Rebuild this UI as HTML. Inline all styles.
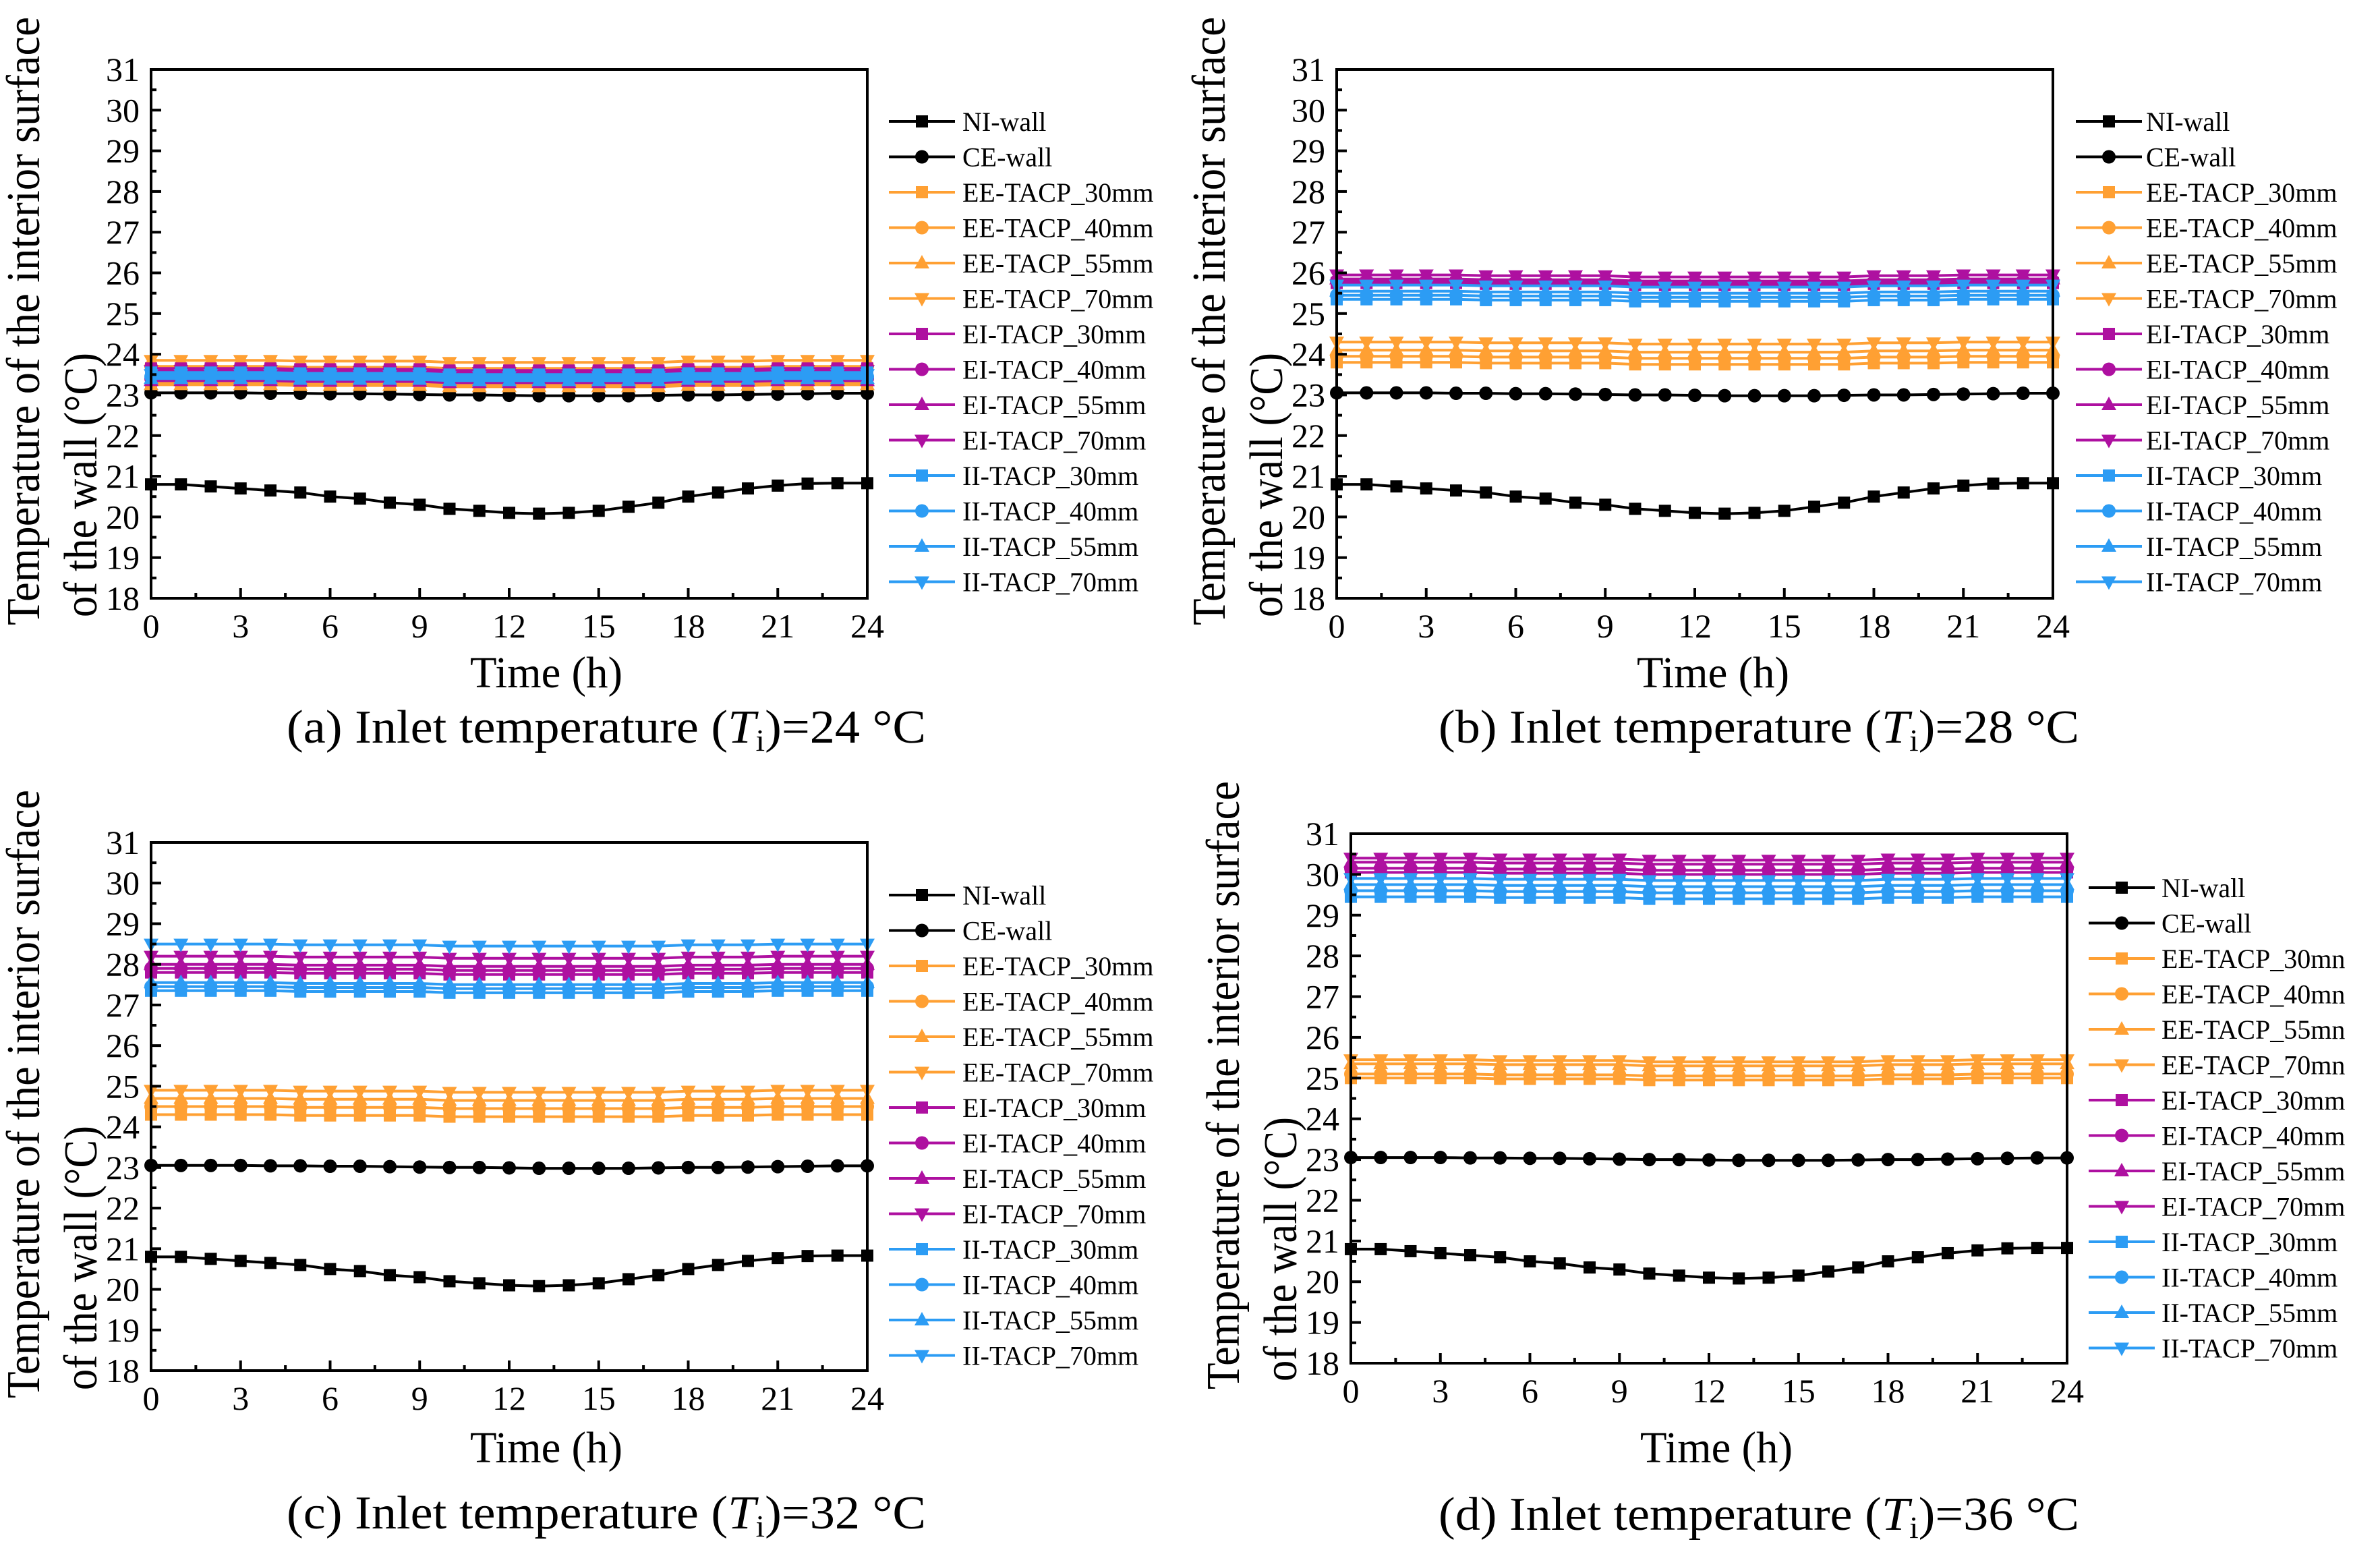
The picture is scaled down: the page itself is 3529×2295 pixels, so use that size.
<!DOCTYPE html>
<html><head><meta charset="utf-8"><style>
html,body{margin:0;padding:0;background:#fff;}
svg{display:block;font-family:"Liberation Serif","Times New Roman",serif;}
</style></head>
<body>
<svg id="fig" width="3529" height="2295" viewBox="0 0 3529 2295" xmlns="http://www.w3.org/2000/svg"></svg>
<script>
const hours = [0,1,2,3,4,5,6,7,8,9,10,11,12,13,14,15,16,17,18,19,20,21,22,23,24];
const xTicks = [0,3,6,9,12,15,18,21,24];
const yTicks = [18,19,20,21,22,23,24,25,26,27,28,29,30,31];
const seriesNames = ["NI-wall","CE-wall","EE-TACP_30mm","EE-TACP_40mm","EE-TACP_55mm","EE-TACP_70mm","EI-TACP_30mm","EI-TACP_40mm","EI-TACP_55mm","EI-TACP_70mm","II-TACP_30mm","II-TACP_40mm","II-TACP_55mm","II-TACP_70mm"];
const legendNamesD = ["NI-wall","CE-wall","EE-TACP_30mn","EE-TACP_40mn","EE-TACP_55mn","EE-TACP_70mn","EI-TACP_30mm","EI-TACP_40mm","EI-TACP_55mm","EI-TACP_70mm","II-TACP_30mm","II-TACP_40mm","II-TACP_55mm","II-TACP_70mm"];
const niWall = [20.8,20.8,20.75,20.7,20.65,20.6,20.5,20.45,20.35,20.3,20.2,20.15,20.1,20.08,20.1,20.15,20.25,20.35,20.5,20.6,20.7,20.77,20.82,20.83,20.83];
const ceWall = [23.05,23.05,23.05,23.05,23.04,23.04,23.03,23.03,23.02,23.01,23.0,23.0,22.99,22.98,22.98,22.98,22.98,22.99,23.0,23.0,23.01,23.02,23.03,23.04,23.04];

const aEE30=[23.3,23.3,23.3,23.3,23.3,23.28,23.28,23.28,23.28,23.28,23.25,23.25,23.25,23.25,23.25,23.25,23.25,23.25,23.28,23.28,23.28,23.3,23.3,23.3,23.3];
const aEE40=[23.7,23.7,23.7,23.7,23.7,23.68,23.68,23.68,23.68,23.68,23.65,23.65,23.65,23.65,23.65,23.65,23.65,23.65,23.68,23.68,23.68,23.7,23.7,23.7,23.7];
const aEE55=[23.25,23.25,23.25,23.25,23.25,23.23,23.23,23.23,23.23,23.23,23.2,23.2,23.2,23.2,23.2,23.2,23.2,23.2,23.23,23.23,23.23,23.25,23.25,23.25,23.25];
const aEE70=[23.85,23.85,23.85,23.85,23.85,23.83,23.83,23.83,23.83,23.83,23.8,23.8,23.8,23.8,23.8,23.8,23.8,23.8,23.83,23.83,23.83,23.85,23.85,23.85,23.85];
const aEI30=[23.65,23.65,23.65,23.65,23.65,23.63,23.63,23.63,23.63,23.63,23.6,23.6,23.6,23.6,23.6,23.6,23.6,23.6,23.63,23.63,23.63,23.65,23.65,23.65,23.65];
const aEI40=[23.4,23.4,23.4,23.4,23.4,23.38,23.38,23.38,23.38,23.38,23.35,23.35,23.35,23.35,23.35,23.35,23.35,23.35,23.38,23.38,23.38,23.4,23.4,23.4,23.4];
const aEI55=[23.35,23.35,23.35,23.35,23.35,23.33,23.33,23.33,23.33,23.33,23.3,23.3,23.3,23.3,23.3,23.3,23.3,23.3,23.33,23.33,23.33,23.35,23.35,23.35,23.35];
const aEI70=[23.6,23.6,23.6,23.6,23.6,23.58,23.58,23.58,23.58,23.58,23.55,23.55,23.55,23.55,23.55,23.55,23.55,23.55,23.58,23.58,23.58,23.6,23.6,23.6,23.6];
const aII30=[23.55,23.55,23.55,23.55,23.55,23.53,23.53,23.53,23.53,23.53,23.5,23.5,23.5,23.5,23.5,23.5,23.5,23.5,23.53,23.53,23.53,23.55,23.55,23.55,23.55];
const aII40=[23.45,23.45,23.45,23.45,23.45,23.43,23.43,23.43,23.43,23.43,23.4,23.4,23.4,23.4,23.4,23.4,23.4,23.4,23.43,23.43,23.43,23.45,23.45,23.45,23.45];
const aII55=[23.4,23.4,23.4,23.4,23.4,23.38,23.38,23.38,23.38,23.38,23.35,23.35,23.35,23.35,23.35,23.35,23.35,23.35,23.38,23.38,23.38,23.4,23.4,23.4,23.4];
const aII70=[23.5,23.5,23.5,23.5,23.5,23.48,23.48,23.48,23.48,23.48,23.45,23.45,23.45,23.45,23.45,23.45,23.45,23.45,23.48,23.48,23.48,23.5,23.5,23.5,23.5];

const bEE30=[23.8,23.8,23.8,23.8,23.8,23.78,23.78,23.78,23.78,23.78,23.75,23.75,23.75,23.75,23.75,23.75,23.75,23.75,23.78,23.78,23.78,23.8,23.8,23.8,23.8];
const bEE40=[23.95,23.95,23.95,23.95,23.95,23.93,23.93,23.93,23.93,23.93,23.9,23.9,23.9,23.9,23.9,23.9,23.9,23.9,23.93,23.93,23.93,23.95,23.95,23.95,23.95];
const bEE55=[24.1,24.1,24.1,24.1,24.1,24.08,24.08,24.08,24.08,24.08,24.05,24.05,24.05,24.05,24.05,24.05,24.05,24.05,24.08,24.08,24.08,24.1,24.1,24.1,24.1];
const bEE70=[24.3,24.3,24.3,24.3,24.3,24.28,24.28,24.28,24.28,24.28,24.25,24.25,24.25,24.25,24.25,24.25,24.25,24.25,24.28,24.28,24.28,24.3,24.3,24.3,24.3];
const bEI30=[25.75,25.75,25.75,25.75,25.75,25.73,25.73,25.73,25.73,25.73,25.7,25.7,25.7,25.7,25.7,25.7,25.7,25.7,25.73,25.73,25.73,25.75,25.75,25.75,25.75];
const bEI40=[25.8,25.8,25.8,25.8,25.8,25.78,25.78,25.78,25.78,25.78,25.75,25.75,25.75,25.75,25.75,25.75,25.75,25.75,25.78,25.78,25.78,25.8,25.8,25.8,25.8];
const bEI55=[25.85,25.85,25.85,25.85,25.85,25.83,25.83,25.83,25.83,25.83,25.8,25.8,25.8,25.8,25.8,25.8,25.8,25.8,25.83,25.83,25.83,25.85,25.85,25.85,25.85];
const bEI70=[25.95,25.95,25.95,25.95,25.95,25.93,25.93,25.93,25.93,25.93,25.9,25.9,25.9,25.9,25.9,25.9,25.9,25.9,25.93,25.93,25.93,25.95,25.95,25.95,25.95];
const bII30=[25.35,25.35,25.35,25.35,25.35,25.33,25.33,25.33,25.33,25.33,25.3,25.3,25.3,25.3,25.3,25.3,25.3,25.3,25.33,25.33,25.33,25.35,25.35,25.35,25.35];
const bII40=[25.45,25.45,25.45,25.45,25.45,25.43,25.43,25.43,25.43,25.43,25.4,25.4,25.4,25.4,25.4,25.4,25.4,25.4,25.43,25.43,25.43,25.45,25.45,25.45,25.45];
const bII55=[25.55,25.55,25.55,25.55,25.55,25.53,25.53,25.53,25.53,25.53,25.5,25.5,25.5,25.5,25.5,25.5,25.5,25.5,25.53,25.53,25.53,25.55,25.55,25.55,25.55];
const bII70=[25.7,25.7,25.7,25.7,25.7,25.68,25.68,25.68,25.68,25.68,25.65,25.65,25.65,25.65,25.65,25.65,25.65,25.65,25.68,25.68,25.68,25.7,25.7,25.7,25.7];

const cEE30=[24.3,24.3,24.3,24.3,24.3,24.28,24.28,24.28,24.28,24.28,24.25,24.25,24.25,24.25,24.25,24.25,24.25,24.25,24.28,24.28,24.28,24.3,24.3,24.3,24.3];
const cEE40=[24.5,24.5,24.5,24.5,24.5,24.48,24.48,24.48,24.48,24.48,24.45,24.45,24.45,24.45,24.45,24.45,24.45,24.45,24.48,24.48,24.48,24.5,24.5,24.5,24.5];
const cEE55=[24.7,24.7,24.7,24.7,24.7,24.68,24.68,24.68,24.68,24.68,24.65,24.65,24.65,24.65,24.65,24.65,24.65,24.65,24.68,24.68,24.68,24.7,24.7,24.7,24.7];
const cEE70=[24.9,24.9,24.9,24.9,24.9,24.88,24.88,24.88,24.88,24.88,24.85,24.85,24.85,24.85,24.85,24.85,24.85,24.85,24.88,24.88,24.88,24.9,24.9,24.9,24.9];
const cEI30=[27.8,27.8,27.8,27.8,27.8,27.78,27.78,27.78,27.78,27.78,27.75,27.75,27.75,27.75,27.75,27.75,27.75,27.75,27.78,27.78,27.78,27.8,27.8,27.8,27.8];
const cEI40=[27.9,27.9,27.9,27.9,27.9,27.88,27.88,27.88,27.88,27.88,27.85,27.85,27.85,27.85,27.85,27.85,27.85,27.85,27.88,27.88,27.88,27.9,27.9,27.9,27.9];
const cEI55=[28.0,28.0,28.0,28.0,28.0,27.98,27.98,27.98,27.98,27.98,27.95,27.95,27.95,27.95,27.95,27.95,27.95,27.95,27.98,27.98,27.98,28.0,28.0,28.0,28.0];
const cEI70=[28.2,28.2,28.2,28.2,28.2,28.18,28.18,28.18,28.18,28.18,28.15,28.15,28.15,28.15,28.15,28.15,28.15,28.15,28.18,28.18,28.18,28.2,28.2,28.2,28.2];
const cII30=[27.35,27.35,27.35,27.35,27.35,27.33,27.33,27.33,27.33,27.33,27.3,27.3,27.3,27.3,27.3,27.3,27.3,27.3,27.33,27.33,27.33,27.35,27.35,27.35,27.35];
const cII40=[27.45,27.45,27.45,27.45,27.45,27.43,27.43,27.43,27.43,27.43,27.4,27.4,27.4,27.4,27.4,27.4,27.4,27.4,27.43,27.43,27.43,27.45,27.45,27.45,27.45];
const cII55=[27.55,27.55,27.55,27.55,27.55,27.53,27.53,27.53,27.53,27.53,27.5,27.5,27.5,27.5,27.5,27.5,27.5,27.5,27.53,27.53,27.53,27.55,27.55,27.55,27.55];
const cII70=[28.5,28.5,28.5,28.5,28.5,28.48,28.48,28.48,28.48,28.48,28.45,28.45,28.45,28.45,28.45,28.45,28.45,28.45,28.48,28.48,28.48,28.5,28.5,28.5,28.5];

const dEE30=[25.0,25.0,25.0,25.0,25.0,24.98,24.98,24.98,24.98,24.98,24.95,24.95,24.95,24.95,24.95,24.95,24.95,24.95,24.98,24.98,24.98,25.0,25.0,25.0,25.0];
const dEE40=[25.1,25.1,25.1,25.1,25.1,25.08,25.08,25.08,25.08,25.08,25.05,25.05,25.05,25.05,25.05,25.05,25.05,25.05,25.08,25.08,25.08,25.1,25.1,25.1,25.1];
const dEE55=[25.35,25.35,25.35,25.35,25.35,25.33,25.33,25.33,25.33,25.33,25.3,25.3,25.3,25.3,25.3,25.3,25.3,25.3,25.33,25.33,25.33,25.35,25.35,25.35,25.35];
const dEE70=[25.45,25.45,25.45,25.45,25.45,25.43,25.43,25.43,25.43,25.43,25.4,25.4,25.4,25.4,25.4,25.4,25.4,25.4,25.43,25.43,25.43,25.45,25.45,25.45,25.45];
const dEI30=[30.05,30.05,30.05,30.05,30.05,30.03,30.03,30.03,30.03,30.03,30.0,30.0,30.0,30.0,30.0,30.0,30.0,30.0,30.03,30.03,30.03,30.05,30.05,30.05,30.05];
const dEI40=[30.15,30.15,30.15,30.15,30.15,30.13,30.13,30.13,30.13,30.13,30.1,30.1,30.1,30.1,30.1,30.1,30.1,30.1,30.13,30.13,30.13,30.15,30.15,30.15,30.15];
const dEI55=[30.3,30.3,30.3,30.3,30.3,30.28,30.28,30.28,30.28,30.28,30.25,30.25,30.25,30.25,30.25,30.25,30.25,30.25,30.28,30.28,30.28,30.3,30.3,30.3,30.3];
const dEI70=[30.4,30.4,30.4,30.4,30.4,30.38,30.38,30.38,30.38,30.38,30.35,30.35,30.35,30.35,30.35,30.35,30.35,30.35,30.38,30.38,30.38,30.4,30.4,30.4,30.4];
const dII30=[29.45,29.45,29.45,29.45,29.45,29.43,29.43,29.43,29.43,29.43,29.4,29.4,29.4,29.4,29.4,29.4,29.4,29.4,29.43,29.43,29.43,29.45,29.45,29.45,29.45];
const dII40=[29.6,29.6,29.6,29.6,29.6,29.58,29.58,29.58,29.58,29.58,29.55,29.55,29.55,29.55,29.55,29.55,29.55,29.55,29.58,29.58,29.58,29.6,29.6,29.6,29.6];
const dII55=[29.75,29.75,29.75,29.75,29.75,29.73,29.73,29.73,29.73,29.73,29.7,29.7,29.7,29.7,29.7,29.7,29.7,29.7,29.73,29.73,29.73,29.75,29.75,29.75,29.75];
const dII70=[29.9,29.9,29.9,29.9,29.9,29.88,29.88,29.88,29.88,29.88,29.85,29.85,29.85,29.85,29.85,29.85,29.85,29.85,29.88,29.88,29.88,29.9,29.9,29.9,29.9];

const NS = "http://www.w3.org/2000/svg";
const svg = document.getElementById('fig');
const colors = ["#000000","#000000","#FFA033","#FFA033","#FFA033","#FFA033","#AE10A0","#AE10A0","#AE10A0","#AE10A0","#2C9CF4","#2C9CF4","#2C9CF4","#2C9CF4"];
const markers = ["sq","ci","sq","ci","up","dn","sq","ci","up","dn","sq","ci","up","dn"];

function mk(tag, attrs, parent){
  const e = document.createElementNS(NS, tag);
  for (const k in attrs) e.setAttribute(k, attrs[k]);
  (parent||svg).appendChild(e);
  return e;
}
function marker(g, type, x, y, color){
  let m;
  if (type==="sq") m = mk('rect',{x:x-9,y:y-9,width:18,height:18,fill:color},g);
  else if (type==="ci") m = mk('circle',{cx:x,cy:y,r:10,fill:color},g);
  else if (type==="up") m = mk('polygon',{points:`${x},${y-12} ${x+11},${y+8} ${x-11},${y+8}`,fill:color},g);
  else m = mk('polygon',{points:`${x},${y+12} ${x+11},${y-8} ${x-11},${y-8}`,fill:color},g);
  return m;
}

const panels = [
  {id:'a', left:224, top:103, bottom:887, right:1286, legLine:1318, legY:180, legText:1427, names:seriesNames,
   data:[niWall,ceWall,aEE30,aEE40,aEE55,aEE70,aEI30,aEI40,aEI55,aEI70,aII30,aII40,aII55,aII70],
   cap:'(a) Inlet temperature (', capVal:')=24 °C', capX:425, capW:948, capY:1101, timeX:810, timeY:1019},
  {id:'b', left:1982, top:103, bottom:887, right:3044, legLine:3078, legY:180, legText:3182, names:seriesNames,
   data:[niWall,ceWall,bEE30,bEE40,bEE55,bEE70,bEI30,bEI40,bEI55,bEI70,bII30,bII40,bII55,bII70],
   cap:'(b) Inlet temperature (', capVal:')=28 °C', capX:2133, capW:950, capY:1101, timeX:2540, timeY:1019},
  {id:'c', left:224, top:1249, bottom:2032, right:1286, legLine:1318, legY:1327, legText:1427, names:seriesNames,
   data:[niWall,ceWall,cEE30,cEE40,cEE55,cEE70,cEI30,cEI40,cEI55,cEI70,cII30,cII40,cII55,cII70],
   cap:'(c) Inlet temperature (', capVal:')=32 °C', capX:425, capW:948, capY:2266, timeX:810, timeY:2168},
  {id:'d', left:2003, top:1236, bottom:2021, right:3065, legLine:3097, legY:1316, legText:3205, names:legendNamesD,
   data:[niWall,ceWall,dEE30,dEE40,dEE55,dEE70,dEI30,dEI40,dEI55,dEI70,dII30,dII40,dII55,dII70],
   cap:'(d) Inlet temperature (', capVal:')=36 °C', capX:2133, capW:950, capY:2268, timeX:2545, timeY:2168}
];

panels.forEach(p=>{
  const g = mk('g',{});
  
  
  const xs = h => p.left + (h-0)/(24-0)*(p.right-p.left);
  const ys = v => p.bottom - (v-18)/(31-18)*(p.bottom-p.top);

  const sg = mk('g',{},g);
  
  
  p.data.forEach((arr,si)=>{
    const pts = arr.map((v,i)=>`${xs(hours[i]).toFixed(1)},${ys(v).toFixed(1)}`).join(' ');
    const line = mk('polyline',{points:pts,fill:'none',stroke:colors[si],'stroke-width':4,'stroke-linejoin':'round'},sg);
    
    
    arr.forEach((v,i)=>{
      const m = marker(sg, markers[si], xs(hours[i]), ys(v), colors[si]);
      
      
    });
  });

  const box = mk('rect',{x:p.left,y:p.top,width:p.right-p.left,height:p.bottom-p.top,fill:'none',stroke:'#000','stroke-width':4},g);
  
  

  yTicks.forEach((t,i)=>{
    const y = ys(t);
    const tk = mk('line',{x1:p.left,x2:p.left+15,y1:y,y2:y,stroke:'#000','stroke-width':4},g);
    
    
    if (i<yTicks.length-1){
      const ym = ys(t+0.5);
      const mt = mk('line',{x1:p.left,x2:p.left+8,y1:ym,y2:ym,stroke:'#000','stroke-width':4},g);
      
      
    }
    const lb = mk('text',{x:p.left-17,y:y+17,'font-size':50,'text-anchor':'end',fill:'#000'},g);
    lb.textContent = t;
    
    
  });
  xTicks.forEach((t,i)=>{
    const x = xs(t);
    const tk = mk('line',{x1:x,x2:x,y1:p.bottom,y2:p.bottom-15,stroke:'#000','stroke-width':4},g);
    
    
    if (i<xTicks.length-1){
      const xm = xs(t+1.5);
      const mt = mk('line',{x1:xm,x2:xm,y1:p.bottom,y2:p.bottom-8,stroke:'#000','stroke-width':4},g);
      
      
    }
    const lb = mk('text',{x:x,y:p.bottom+58,'font-size':50,'text-anchor':'middle',fill:'#000'},g);
    lb.textContent = t;
    
    
  });

  const yt1 = mk('text',{x:0,y:0,'font-size':70,fill:'#000',textLength:902,lengthAdjust:'spacingAndGlyphs',
    transform:`translate(${p.left-166},${p.top+824}) rotate(-90)`},g);
  yt1.textContent = 'Temperature of the interior surface';
  
  
  const yt2 = mk('text',{x:0,y:0,'font-size':70,fill:'#000',textLength:392,lengthAdjust:'spacingAndGlyphs',
    transform:`translate(${p.left-81},${p.top+812}) rotate(-90)`},g);
  yt2.textContent = 'of the wall (°C)';
  
  

  const xt = mk('text',{x:p.timeX,y:p.timeY,'font-size':66,'text-anchor':'middle',fill:'#000',textLength:226,lengthAdjust:'spacingAndGlyphs'},g);
  xt.textContent = 'Time (h)';
  
  

  const cap = mk('text',{x:p.capX,y:p.capY,'font-size':70,fill:'#000',textLength:p.capW,lengthAdjust:'spacingAndGlyphs'},g);
  
  
  const t1 = mk('tspan',{},cap); t1.textContent = p.cap;
  const t2 = mk('tspan',{'font-style':'italic'},cap); t2.textContent = 'T';
  const t3 = mk('tspan',{'font-size':46,dy:12},cap); t3.textContent = 'i';
  const t4 = mk('tspan',{dy:-12},cap); t4.textContent = p.capVal;

  const lg = mk('g',{},g);
  
  
  p.names.forEach((nm,si)=>{
    const y = p.legY + si*52.5;
    const eg = mk('g',{},lg);
    
    
    mk('line',{x1:p.legLine,x2:p.legLine+98,y1:y,y2:y,stroke:colors[si],'stroke-width':4},eg);
    marker(eg, markers[si], p.legLine+49, y, colors[si]);
    const tx = mk('text',{x:p.legText,y:y+14,'font-size':40,fill:'#000'},eg);
    tx.textContent = nm;
  });
});
</script>
</body></html>
